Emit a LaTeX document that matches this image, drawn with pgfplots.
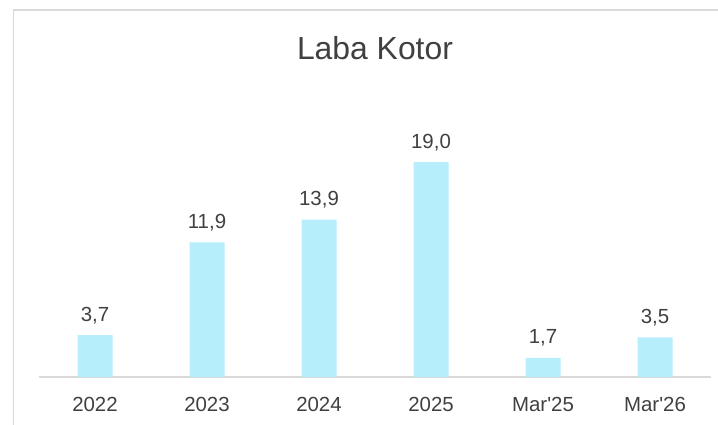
\documentclass[border=0pt]{standalone}
\usepackage{pgfplots}
\pgfplotsset{compat=1.18}
\usepackage{fontspec}
\setmainfont{Liberation Sans}
\definecolor{barc}{RGB}{183,238,252}
\definecolor{txt}{RGB}{64,64,64}
\definecolor{axl}{RGB}{217,217,217}
\definecolor{frm}{RGB}{217,217,217}
\begin{document}
\begin{tikzpicture}[x=1bp,y=1bp]
\path[use as bounding box] (0,0) rectangle (718,424);
\draw[frm, line width=1.2bp] (13.5,-5) rectangle (725,414);
\node[txt, font=\fontsize{32}{36}\selectfont, anchor=center] at (375,376) {Laba Kotor};
\begin{axis}[
  at={(39bp,47bp)}, anchor=south west,
  scale only axis, width=672bp, height=215bp,
  xmin=-0.5, xmax=5.5, ymin=0, ymax=19,
  clip=false,
  axis y line=none,
  axis x line*=bottom,
  x axis line style={axl, line width=1.3bp, -},
  xtick=data,
  xticklabels={2022,2023,2024,2025,Mar\textquotesingle 25,Mar\textquotesingle 26},
  major tick length=0,
  xticklabel style={txt, font=\fontsize{20.5}{24}\selectfont, anchor=north, inner sep=0pt, yshift=-20bp},
  ybar, bar width=35bp,
  nodes near coords,
  /pgf/number format/.cd, use comma, fixed, fixed zerofill, precision=1, assume math mode=true,
  /pgfplots/.cd,
  every node near coord/.append style={txt, font=\fontsize{20.5}{24}\selectfont, anchor=base, inner sep=0pt, yshift=14bp},
]
\addplot[fill=barc, draw=none] coordinates {(0,3.7) (1,11.9) (2,13.9) (3,19.0) (4,1.7) (5,3.5)};
\end{axis}
\end{tikzpicture}
\end{document}
